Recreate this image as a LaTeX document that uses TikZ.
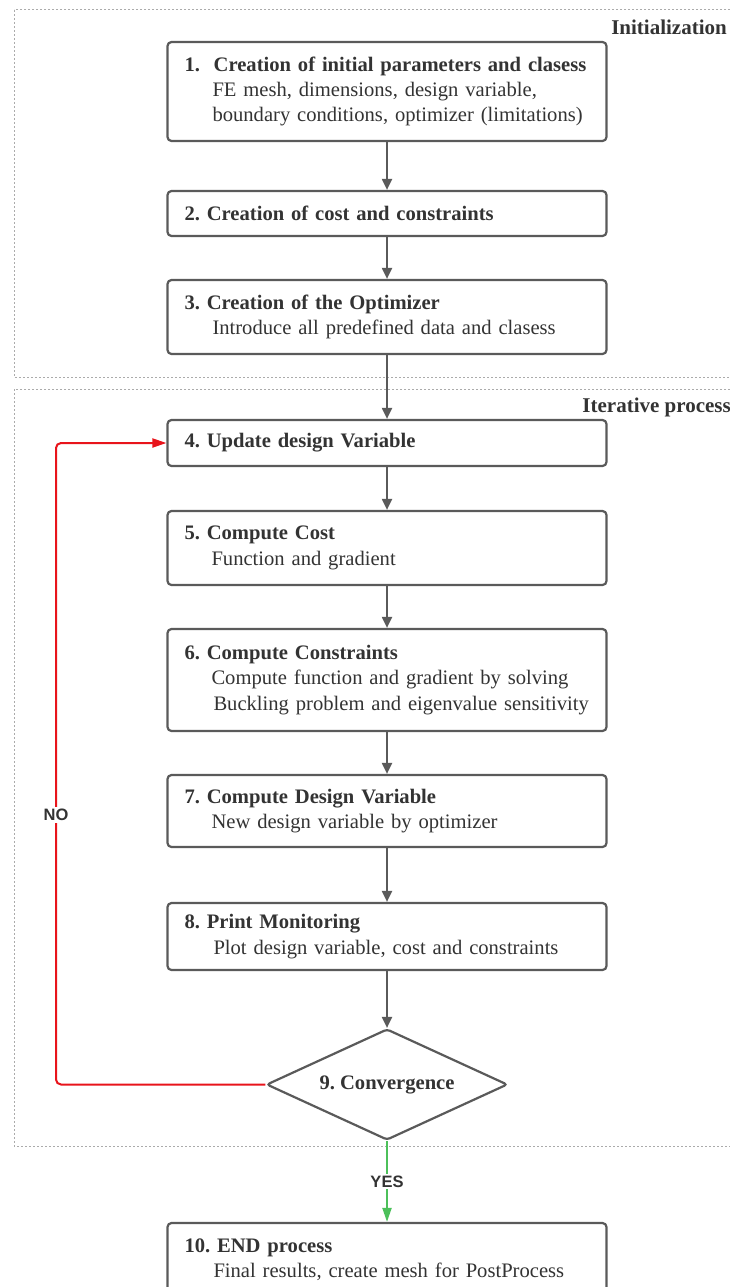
\documentclass[tikz,border=0pt]{standalone}
\usepackage{fontspec}
\setmainfont{Liberation Serif}
\setsansfont{Liberation Sans}
\usetikzlibrary{shapes.geometric,arrows.meta}
\definecolor{edgec}{HTML}{5A5A5A}
\definecolor{txtc}{HTML}{333333}
\definecolor{nored}{HTML}{E8141B}
\definecolor{yesgreen}{HTML}{4CC05A}
\definecolor{framec}{HTML}{ABABAB}
\frenchspacing
\begin{document}
\begin{tikzpicture}[x=1pt,y=-1pt,
  stepbox/.style={draw=edgec, line width=2.2pt, rounded corners=4pt, fill=white,
    text width=430pt, inner xsep=4.5pt, inner ysep=0pt, align=left,
    font=\fontsize{20.6}{25.3}\selectfont, text=txtc},
  decision/.style={draw=edgec, line width=2.2pt, shape=diamond, rounded corners=3pt, fill=white,
    minimum width=241pt, minimum height=111pt, aspect=2.17, inner sep=0pt,
    font=\fontsize{20.6}{24}\selectfont\bfseries, text=txtc},
  flow/.style={draw=edgec, line width=2pt, -{Triangle[length=11pt,width=10pt]}},
  frame/.style={draw=framec, line width=1pt, dash pattern=on 2pt off 2pt},
  phase/.style={font=\fontsize{21}{24}\selectfont\bfseries, text=txtc, inner sep=0pt},
  answer/.style={font=\fontsize{16.5}{18}\sffamily\bfseries, text=txtc, fill=white, inner sep=2pt}]
\useasboundingbox (0,0) rectangle (730,1287);
% frames
\draw[frame] (14,10) rectangle (745,377);
\draw[frame] (14,389) rectangle (745,1146);
\node[phase, anchor=east] (lblinit) at (727,27) {Initialization};
\node[phase, anchor=east] (lbliter) at (731,407) {Iterative process};
% boxes
\node[stepbox, minimum height=99pt] (b1) at (387,91.5) {\hspace*{12.5pt}\textbf{1.\ \ Creation of initial parameters and clasess}\\
  \hspace*{40.5pt}FE mesh, dimensions, design variable,\\
  \hspace*{40.5pt}boundary conditions, optimizer (limitations)};
\node[stepbox, minimum height=45pt] (b2) at (387,213.5) {\hspace*{12.5pt}\textbf{2. Creation of cost and constraints}};
\node[stepbox, minimum height=74pt] (b3) at (387,317) {\hspace*{12.5pt}\textbf{3. Creation of the Optimizer}\\
  \hspace*{40.5pt}Introduce all predefined data and clasess};
\node[stepbox, minimum height=46pt] (b4) at (387,443) {\hspace*{12.5pt}\textbf{4. Update design Variable}};
\node[stepbox, minimum height=74pt] (b5) at (387,548) {\hspace*{12.5pt}\textbf{5. Compute Cost}\\
  \hspace*{39.5pt}Function and gradient};
\node[stepbox, minimum height=102pt] (b6) at (387,680) {\hspace*{12.5pt}\textbf{6. Compute Constraints}\\
  \hspace*{39.5pt}Compute function and gradient by solving\\
  \hspace*{41.5pt}Buckling problem and eigenvalue sensitivity};
\node[stepbox, minimum height=72pt] (b7) at (387,811) {\hspace*{12.5pt}\textbf{7. Compute Design Variable}\\
  \hspace*{39.5pt}New design variable by optimizer};
\node[stepbox, minimum height=67pt] (b8) at (387,936.5) {\hspace*{12.5pt}\textbf{8. Print Monitoring}\\
  \hspace*{41.5pt}Plot design variable, cost and constraints};
\node[decision] (d9) at (387,1084.5) {9. Convergence};
\node[stepbox, minimum height=74pt] (b10) at (387,1260) {\hspace*{12.5pt}\textbf{10. END process}\\
  \hspace*{41.5pt}Final results, create mesh for PostProcess};
% connectors
\draw[flow] (b1) -- (b2);
\draw[flow] (b2) -- (b3);
\draw[flow] (b3) -- (b4);
\draw[flow] (b4) -- (b5);
\draw[flow] (b5) -- (b6);
\draw[flow] (b6) -- (b7);
\draw[flow] (b7) -- (b8);
\draw[flow] (b8.south) -- (d9.north);
\coordinate (nocorner) at (56,1084.5);
\draw[nored, line width=2pt, rounded corners=5pt, -{Triangle[length=14pt,width=9pt]}]
  (d9.west) -- (nocorner) |- (b4.west) node[pos=0.21, answer] (nolbl) {NO};
\draw[yesgreen, line width=2pt, -{Triangle[length=14pt,width=9pt]}]
  (d9.south) -- (b10.north) node[midway, answer] (yeslbl) {YES};
\end{tikzpicture}
\end{document}
